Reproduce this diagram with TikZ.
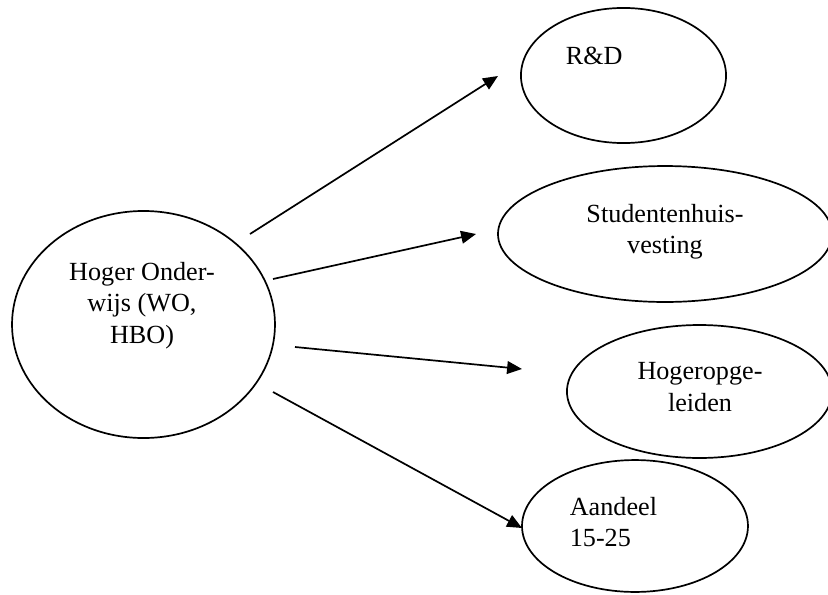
\documentclass[tikz,border=0pt]{standalone}
\usepackage{fontspec}
\setmainfont{Liberation Serif}
\usetikzlibrary{shapes.geometric, arrows.meta}

\begin{document}
\begin{tikzpicture}[->, >={Triangle[length=7pt, width=6pt]}, x=0.47pt, y=-0.47pt, line width=0.8pt]
            \tikzset{
                blob/.style={
                        ellipse, draw, inner sep=0pt
                    },
                txt/.style={
                        inner sep=0pt, font=\fontsize{12.3pt}{15pt}\selectfont
                    }
            }

            \useasboundingbox (0,0) rectangle (828,594);

            % Source
            \node[blob, minimum width=123.6pt, minimum height=106.7pt] (ho) at (143.5,324.5) {};
            \node[txt, anchor=north, align=center] (hotext) at (142,261) {Hoger Onder-\\wijs (WO,\\HBO)};

            % Targets
            \node[blob, minimum width=96.4pt, minimum height=63.5pt] (rd) at (623.5,75.5) {};
            \node[txt, anchor=north west] (rdtext) at (565,46) {R\&D};

            \node[blob, minimum width=157pt, minimum height=63.9pt] (st) at (665,234) {};
            \node[txt, anchor=north, align=center] (sttext) at (665,203) {Studentenhuis-\\vesting};

            \node[blob, minimum width=124.6pt, minimum height=62.5pt] (hg) at (699.5,391.5) {};
            \node[txt, anchor=north, align=center] (hgtext) at (700,362) {Hogeropge-\\leiden};

            \node[blob, minimum width=106.2pt, minimum height=62pt] (aa) at (635,526) {};
            \node[txt, anchor=north west, align=left] (aatext) at (569,496) {Aandeel\\15-25};

            % Arrow ends
            \coordinate (rdfrom) at (250,234);
            \coordinate (rdto) at (498,76);
            \coordinate (stfrom) at (273,279);
            \coordinate (stto) at (476,234);
            \coordinate (hgfrom) at (295,347);
            \coordinate (hgto) at (522,369);
            \coordinate (aafrom) at (273,392);
            \coordinate (aato) at (522,528);

            \draw[->] (rdfrom) -- (rdto);
            \draw[->] (stfrom) -- (stto);
            \draw[->] (hgfrom) -- (hgto);
            \draw[->] (aafrom) -- (aato);
        \end{tikzpicture}
\end{document}
